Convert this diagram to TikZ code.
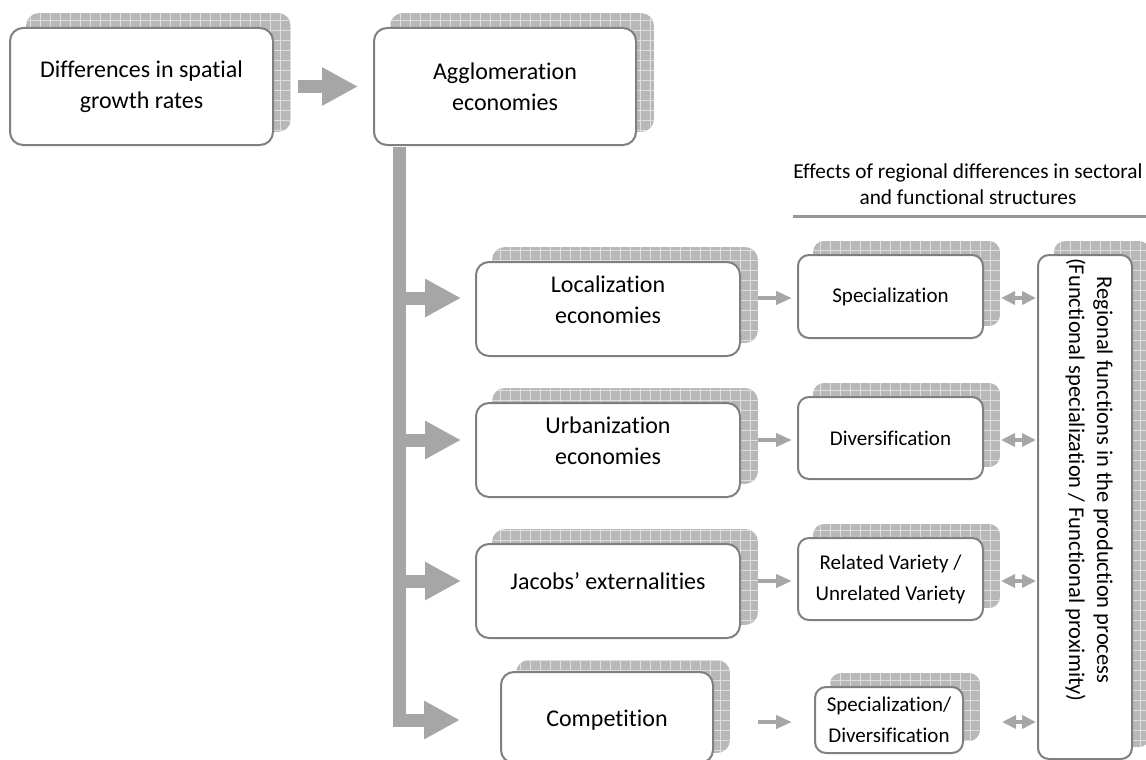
\documentclass[tikz,border=0pt]{standalone}
\usepackage{fontspec}
\setmainfont{Carlito}[RawFeature=-liga]
\usetikzlibrary{backgrounds,calc,arrows.meta}
\definecolor{bordergray}{RGB}{128,128,128}
\definecolor{arrowgray}{RGB}{166,166,166}
\definecolor{shadowfill}{RGB}{184,184,184}
\definecolor{shadowgrid}{RGB}{222,222,222}
\definecolor{rulegray}{RGB}{150,150,150}
\tikzset{
  box/.style={draw=bordergray, line width=2pt, fill=white, rounded corners=13pt, align=center, inner sep=0pt},
  bigbox/.style={box, font=\fontsize{24}{31}\selectfont},
  smallbox/.style={box, rounded corners=11pt, font=\fontsize{21}{31}\selectfont},
  bigtext/.style={align=center, inner sep=0pt, font=\fontsize{24}{31}\selectfont},
  bigarrow/.style={arrowgray, line width=13pt, line join=miter, -{Triangle[width=36pt,length=36pt]}},
  smallarrow/.style={arrowgray, line width=4pt, -{Triangle[width=13pt,length=16pt]}},
  dblarrow/.style={arrowgray, line width=4pt, {Triangle[width=13pt,length=14pt]}-{Triangle[width=13pt,length=14pt]}},
}
\newcommand\boxshadow[4]{%
  \begin{scope}[on background layer]
    \begin{scope}
      \clip[rounded corners=#4] ($(#1.south west)+(#2,-#3)$) rectangle ($(#1.north east)+(#2,-#3)$);
      \fill[shadowfill] ($(#1.south west)+(#2,-#3)$) rectangle ($(#1.north east)+(#2,-#3)$);
      \draw[shadowgrid, line width=0.7pt, step=10pt] ($(#1.south west)+(#2,-#3)$) grid ($(#1.north east)+(#2,-#3)$);
    \end{scope}
  \end{scope}}
\begin{document}
\begin{tikzpicture}[x=1pt,y=-1pt]
\useasboundingbox (0,0) rectangle (1146,760);
\clip (0,0) rectangle (1146,760);
% top row
\node[bigbox, minimum width=263pt, minimum height=117pt] (diff) at (141.5,86.5) {Differences in spatial\\growth rates};
\node[bigbox, minimum width=262pt, minimum height=117pt] (agg) at (505,86.5) {Agglomeration\\economies};
% second column
\node[box, minimum width=264pt, minimum height=94pt] (loc) at (608,309) {};
\node[bigtext] (locT) at (608,300) {Localization\\economies};
\node[box, minimum width=264pt, minimum height=94pt] (urb) at (608,450) {};
\node[bigtext] (urbT) at (608,441) {Urbanization\\economies};
\node[box, minimum width=264pt, minimum height=94pt] (jac) at (608,591) {};
\node[bigtext] (jacT) at (608,581) {Jacobs’ externalities};
\node[box, minimum width=212pt, minimum height=91pt] (com) at (607,717.5) {};
\node[bigtext] (comT) at (607,720) {Competition};
% third column
\node[smallbox, minimum width=185pt, minimum height=83pt] (spe) at (890.5,296.5) {Specialization};
\node[smallbox, minimum width=185pt, minimum height=82pt] (div) at (890.5,438) {Diversification};
\node[smallbox, minimum width=185pt, minimum height=82pt] (rel) at (890.5,579) {Related Variety /\\Unrelated Variety};
\node[smallbox, minimum width=148pt, minimum height=66pt] (sd) at (889,720) {Specialization/\\Diversification};
% right column
\node[smallbox, minimum width=94pt, minimum height=504pt] (reg) at (1085,507) {};
\node[rotate=-90, align=center, inner sep=0pt, font=\fontsize{22.5}{28}\selectfont] (regT) at (1089,480) {Regional functions in the production process\\(Functional specialization / Functional proximity)};
% header
\node[align=center, inner sep=0pt, font=\fontsize{21.3}{26}\selectfont] (head) at (968,184) {Effects of regional differences in sectoral\\and functional structures};
\coordinate (hl) at (793,216);
\coordinate (hr) at (1146,216);
\draw[rulegray, line width=3pt] (hl) -- (hr);
% shadows
\boxshadow{diff}{17}{14}{13pt}
\boxshadow{agg}{17}{14}{13pt}
\boxshadow{loc}{17}{14}{13pt}
\boxshadow{urb}{17}{14}{13pt}
\boxshadow{jac}{17}{14}{13pt}
\boxshadow{com}{16}{11}{13pt}
\boxshadow{spe}{16}{13}{11pt}
\boxshadow{div}{16}{13}{11pt}
\boxshadow{rel}{16}{13}{11pt}
\boxshadow{sd}{16}{13}{11pt}
\boxshadow{reg}{17}{13}{11pt}
% arrows
\draw[bigarrow] ($(diff.east)+(24,0)$) -- ($(agg.west)+(-15,0)$);
\coordinate (bartop) at ($(agg.south west)+(26,1)$);
\coordinate (r1) at (0,298);
\coordinate (r2) at (0,440);
\coordinate (r3) at (0,581);
\coordinate (r4) at (0,720);
\draw[bigarrow] (bartop) -- (bartop |- r4) -- ($(com.west |- r4)+(-40,0)$);
\draw[bigarrow] (bartop |- r1) -- ($(loc.west |- r1)+(-14,0)$);
\draw[bigarrow] (bartop |- r2) -- ($(urb.west |- r2)+(-14,0)$);
\draw[bigarrow] (bartop |- r3) -- ($(jac.west |- r3)+(-14,0)$);
% small arrows
\draw[smallarrow] ($(loc.east |- r1)+(17,0)$) -- ($(spe.west |- r1)+(-5,0)$);
\draw[smallarrow] ($(urb.east |- r2)+(17,0)$) -- ($(div.west |- r2)+(-5,0)$);
\draw[smallarrow] ($(jac.east |- r3)+(17,0)$) -- ($(rel.west |- r3)+(-5,0)$);
\draw[smallarrow] ($(loc.east |- sd.west)+(17,2)$) -- ($(sd.west)+(-22,2)$);
% double arrows
\draw[dblarrow] ($(spe.east |- r1)+(17,0)$) -- ($(reg.west |- r1)+(-1,0)$);
\draw[dblarrow] ($(div.east |- r2)+(17,0)$) -- ($(reg.west |- r2)+(-1,0)$);
\draw[dblarrow] ($(rel.east |- r3)+(17,0)$) -- ($(reg.west |- r3)+(-1,0)$);
\draw[dblarrow] ($(sd.east)+(38,2)$) -- ($(reg.west |- sd.east)+(-1,2)$);
\end{tikzpicture}
\end{document}
